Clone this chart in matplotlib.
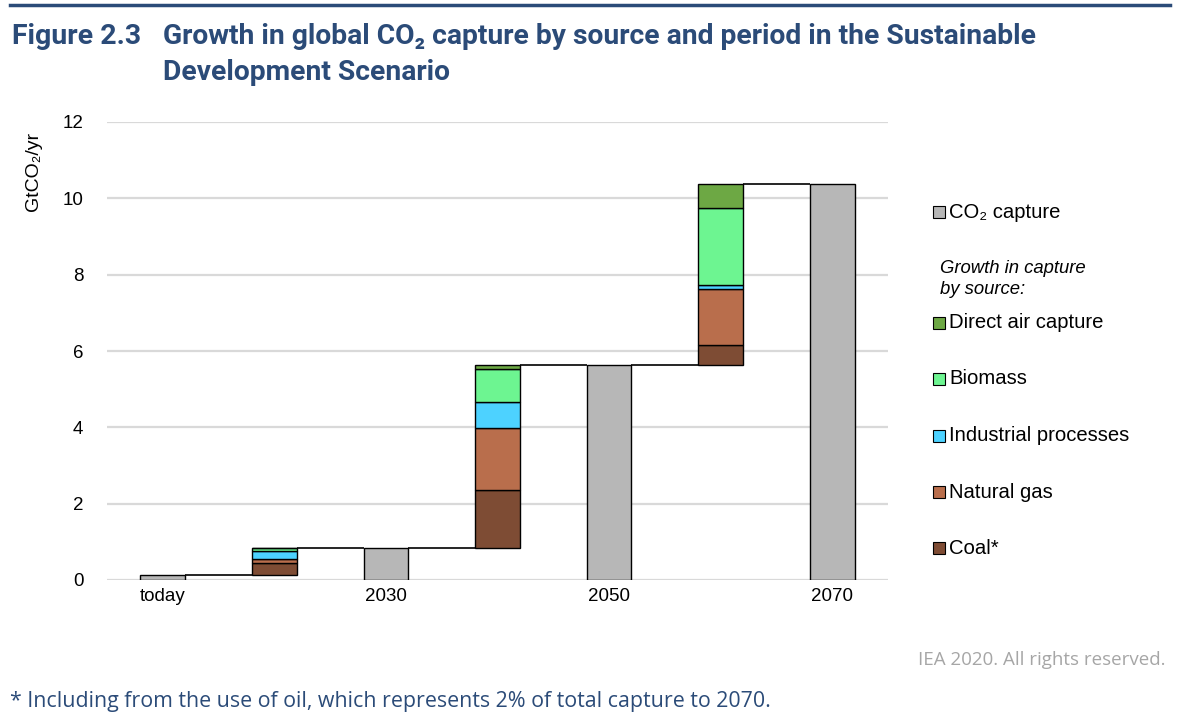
import matplotlib
matplotlib.use("Agg")
import matplotlib.pyplot as plt
from matplotlib.patches import Rectangle

# ---- data ----
categories = ["today", "", "2030", "", "2050", "", "2070"]
total_idx = [0, 2, 4, 6]
total_values = [0.13, 0.83, 5.63, 10.38]
growth_idx = [1, 3, 5]
coal = [0.31, 1.52, 0.53]
natural_gas = [0.10, 1.62, 1.46]
industrial = [0.22, 0.69, 0.10]
biomass = [0.07, 0.86, 2.03]
dac = [0.00, 0.11, 0.63]
yticks = [0, 2, 4, 6, 8, 10, 12]

# ---- style ----
c_total = "#B7B7B7"
c_coal = "#7E4C34"
c_gas = "#B96E4C"
c_ind = "#4DD2FF"
c_bio = "#6DF591"
c_dac = "#6DA844"
title_col = "#2B4B78"
font_main = ["Liberation Sans", "DejaVu Sans"]

plt.rcParams["font.family"] = font_main

fig = plt.figure(figsize=(11.82, 7.21), dpi=100)
ax = fig.add_axes([107 / 1182, 1 - 580 / 721, (888 - 107) / 1182, (580 - 122) / 721])

w = 0.4
x = list(range(len(categories)))
# total bars
ax.bar(total_idx, total_values, width=w, color=c_total, edgecolor="black", linewidth=1, zorder=3)
# growth stacked bars
series = [(coal, c_coal), (natural_gas, c_gas), (industrial, c_ind), (biomass, c_bio), (dac, c_dac)]
bases = [total_values[i] for i in range(len(growth_idx))]
cur = list(bases)
for vals, col in series:
    ax.bar(growth_idx, vals, bottom=cur, width=w, color=col, edgecolor="black", linewidth=1, zorder=3)
    cur = [c + v for c, v in zip(cur, vals)]

# connector lines
tops = {}
for i, v in zip(total_idx, total_values):
    tops[i] = v
for k, i in enumerate(growth_idx):
    tops[i] = cur[k]
for i in range(len(categories) - 1):
    ax.plot([i + w / 2, i + 1 - w / 2], [tops[i], tops[i]], color="black", lw=1.2, zorder=4,
            solid_capstyle="butt")

ax.set_xlim(-0.5, len(categories) - 0.5)
ax.set_ylim(0, 12)
ax.set_yticks(yticks)
ax.set_yticklabels([str(t) for t in yticks], fontsize=13.5)
ax.set_xticks(x)
ax.set_xticklabels(categories, fontsize=13.5)
ax.tick_params(axis="both", length=0)
ax.tick_params(axis="y", pad=17)
ax.tick_params(axis="x", pad=6)
ax.grid(axis="y", color="#D9D9D9", lw=1.6, zorder=0)
ax.set_axisbelow(True)
for s in ax.spines.values():
    s.set_visible(False)
ax.set_ylabel("GtCO₂/yr", fontsize=14)
ax.yaxis.set_label_coords(-0.083, 0.893)

# legend (manual)
leg_items = [
    (212, "CO₂ capture", c_total),
    (323, "Direct air capture", c_dac),
    (379, "Biomass", c_bio),
    (436, "Industrial processes", c_ind),
    (492, "Natural gas", c_gas),
    (548, "Coal*", c_coal),
]
for ypix, label, col in leg_items:
    fig.patches.append(Rectangle((933 / 1182, 1 - (ypix + 6) / 721), 12 / 1182, 12 / 721,
                                 transform=fig.transFigure, facecolor=col, edgecolor="black", lw=0.8))
    fig.text(949 / 1182, 1 - ypix / 721, label, fontsize=14.6, va="center", ha="left")
fig.text(940 / 1182, 1 - 268 / 721, "Growth in capture", fontsize=13.3, style="italic", va="center")
fig.text(940 / 1182, 1 - 289 / 721, "by source:", fontsize=13.3, style="italic", va="center")

# title & rule
fig.add_artist(plt.Line2D([10 / 1182, 1170 / 1182], [1 - 5 / 721, 1 - 5 / 721], color=title_col, lw=2.5,
                          transform=fig.transFigure))
tfont = ["Roboto", "DejaVu Sans"]
fig.text(12 / 1182, 1 - 37 / 721, "Figure 2.3", fontsize=20.5, weight="bold", color=title_col,
         family=tfont, va="center")
fig.text(163 / 1182, 1 - 37 / 721, "Growth in global CO₂ capture by source and period in the Sustainable",
         fontsize=20.3, weight="bold", color=title_col, family=tfont, va="center")
fig.text(163 / 1182, 1 - 72 / 721, "Development Scenario",
         fontsize=20.3, weight="bold", color=title_col, family=tfont, va="center")

fig.text(1165 / 1182, 1 - 660 / 721, "IEA 2020. All rights reserved.", fontsize=13.5, color="#A6A6A6",
         ha="right", va="center", family=["Open Sans", "DejaVu Sans"])
fig.text(10 / 1182, 1 - 702 / 721,
         "* Including from the use of oil, which represents 2% of total capture to 2070.",
         fontsize=15.4, color="#2B4B78", ha="left", va="center", family=["Open Sans", "DejaVu Sans"])

fig.savefig("out.png", dpi=100)
